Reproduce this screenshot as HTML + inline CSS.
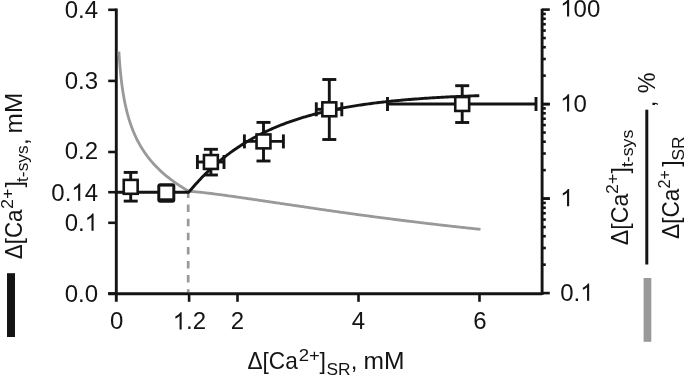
<!DOCTYPE html>
<html><head><meta charset="utf-8"><style>
html,body{margin:0;padding:0;background:#fff;}
svg{display:block;will-change:transform;}
text{font-family:"Liberation Sans", sans-serif;fill:#141414;}
</style></head><body>
<svg width="685" height="376" viewBox="0 0 685 376">
<g>
<rect x="7" y="273.2" width="8" height="63.8" fill="#141414"/><rect x="643.6" y="278" width="7.7" height="63.8" fill="#999999"/><line x1="646.8" y1="109.7" x2="646.8" y2="264.5" stroke="#141414" stroke-width="3"/>
<line x1="116.3" y1="8.6" x2="116.3" y2="301.8" stroke="#141414" stroke-width="2.9"/>
<line x1="108.2" y1="293.7" x2="542.1" y2="293.7" stroke="#141414" stroke-width="2.9"/>
<line x1="542.1" y1="8.8" x2="542.1" y2="295.0" stroke="#141414" stroke-width="2.9"/>
<line x1="108.2" y1="9.8" x2="116.3" y2="9.8" stroke="#141414" stroke-width="2.6"/>
<line x1="108.2" y1="80.9" x2="116.3" y2="80.9" stroke="#141414" stroke-width="2.6"/>
<line x1="108.2" y1="152.0" x2="116.3" y2="152.0" stroke="#141414" stroke-width="2.6"/>
<line x1="108.2" y1="192.2" x2="116.3" y2="192.2" stroke="#141414" stroke-width="2.6"/>
<line x1="108.2" y1="222.8" x2="116.3" y2="222.8" stroke="#141414" stroke-width="2.6"/>
<line x1="108.2" y1="293.5" x2="116.3" y2="293.5" stroke="#141414" stroke-width="2.6"/>
<line x1="189.10" y1="293.7" x2="189.10" y2="301.8" stroke="#141414" stroke-width="2.6"/>
<line x1="237.50" y1="293.7" x2="237.50" y2="301.8" stroke="#141414" stroke-width="2.6"/>
<line x1="358.50" y1="293.7" x2="358.50" y2="301.8" stroke="#141414" stroke-width="2.6"/>
<line x1="479.50" y1="293.7" x2="479.50" y2="301.8" stroke="#141414" stroke-width="2.6"/>
<line x1="542.1" y1="293.10" x2="549.8" y2="293.10" stroke="#141414" stroke-width="2.6"/>
<line x1="542.1" y1="264.65" x2="545.8" y2="264.65" stroke="#141414" stroke-width="2.6"/>
<line x1="542.1" y1="248.01" x2="545.8" y2="248.01" stroke="#141414" stroke-width="2.6"/>
<line x1="542.1" y1="236.21" x2="545.8" y2="236.21" stroke="#141414" stroke-width="2.6"/>
<line x1="542.1" y1="227.05" x2="545.8" y2="227.05" stroke="#141414" stroke-width="2.6"/>
<line x1="542.1" y1="219.56" x2="545.8" y2="219.56" stroke="#141414" stroke-width="2.6"/>
<line x1="542.1" y1="213.24" x2="545.8" y2="213.24" stroke="#141414" stroke-width="2.6"/>
<line x1="542.1" y1="207.76" x2="545.8" y2="207.76" stroke="#141414" stroke-width="2.6"/>
<line x1="542.1" y1="202.92" x2="545.8" y2="202.92" stroke="#141414" stroke-width="2.6"/>
<line x1="542.1" y1="198.60" x2="549.8" y2="198.60" stroke="#141414" stroke-width="2.6"/>
<line x1="542.1" y1="198.60" x2="549.8" y2="198.60" stroke="#141414" stroke-width="2.6"/>
<line x1="542.1" y1="170.15" x2="545.8" y2="170.15" stroke="#141414" stroke-width="2.6"/>
<line x1="542.1" y1="153.51" x2="545.8" y2="153.51" stroke="#141414" stroke-width="2.6"/>
<line x1="542.1" y1="141.71" x2="545.8" y2="141.71" stroke="#141414" stroke-width="2.6"/>
<line x1="542.1" y1="132.55" x2="545.8" y2="132.55" stroke="#141414" stroke-width="2.6"/>
<line x1="542.1" y1="125.06" x2="545.8" y2="125.06" stroke="#141414" stroke-width="2.6"/>
<line x1="542.1" y1="118.74" x2="545.8" y2="118.74" stroke="#141414" stroke-width="2.6"/>
<line x1="542.1" y1="113.26" x2="545.8" y2="113.26" stroke="#141414" stroke-width="2.6"/>
<line x1="542.1" y1="108.42" x2="545.8" y2="108.42" stroke="#141414" stroke-width="2.6"/>
<line x1="542.1" y1="104.10" x2="549.8" y2="104.10" stroke="#141414" stroke-width="2.6"/>
<line x1="542.1" y1="104.10" x2="549.8" y2="104.10" stroke="#141414" stroke-width="2.6"/>
<line x1="542.1" y1="75.65" x2="545.8" y2="75.65" stroke="#141414" stroke-width="2.6"/>
<line x1="542.1" y1="59.01" x2="545.8" y2="59.01" stroke="#141414" stroke-width="2.6"/>
<line x1="542.1" y1="47.21" x2="545.8" y2="47.21" stroke="#141414" stroke-width="2.6"/>
<line x1="542.1" y1="38.05" x2="545.8" y2="38.05" stroke="#141414" stroke-width="2.6"/>
<line x1="542.1" y1="30.56" x2="545.8" y2="30.56" stroke="#141414" stroke-width="2.6"/>
<line x1="542.1" y1="24.24" x2="545.8" y2="24.24" stroke="#141414" stroke-width="2.6"/>
<line x1="542.1" y1="18.76" x2="545.8" y2="18.76" stroke="#141414" stroke-width="2.6"/>
<line x1="542.1" y1="13.92" x2="545.8" y2="13.92" stroke="#141414" stroke-width="2.6"/>
<line x1="542.1" y1="9.60" x2="549.8" y2="9.60" stroke="#141414" stroke-width="2.6"/>
<path d="M118.90,51.47 L119.15,55.54 L119.40,59.24 L119.65,62.63 L119.90,65.76 L120.15,68.68 L120.40,71.40 L120.65,73.95 L120.90,76.35 L121.15,78.61 L121.40,80.76 L121.65,82.81 L121.90,84.75 L122.15,86.61 L122.40,88.39 L122.65,90.09 L122.90,91.72 L123.15,93.30 L123.40,94.81 L123.65,96.27 L123.90,97.68 L124.15,99.05 L124.40,100.37 L124.65,101.64 L124.90,102.88 L125.15,104.09 L125.40,105.26 L125.65,106.39 L125.90,107.50 L126.15,108.58 L126.40,109.63 L126.65,110.65 L126.90,111.65 L127.15,112.62 L127.40,113.58 L127.65,114.51 L127.90,115.42 L128.15,116.31 L128.40,117.18 L128.65,118.03 L128.90,118.87 L129.15,119.69 L129.40,120.49 L129.65,121.28 L129.90,122.05 L130.15,122.81 L130.40,123.55 L130.65,124.29 L130.90,125.00 L131.15,125.71 L131.40,126.41 L131.65,127.09 L131.90,127.76 L132.15,128.42 L132.40,129.07 L132.65,129.71 L132.90,130.34 L133.15,130.96 L133.40,131.57 L133.65,132.18 L133.90,132.77 L134.15,133.36 L134.40,133.93 L134.65,134.50 L134.90,135.06 L135.15,135.62 L135.40,136.17 L135.65,136.70 L135.90,137.24 L136.15,137.76 L136.40,138.28 L136.65,138.79 L136.90,139.30 L137.15,139.80 L137.40,140.29 L137.65,140.78 L137.90,141.26 L138.15,141.74 L138.40,142.21 L138.65,142.68 L138.90,143.14 L139.15,143.59 L139.40,144.04 L139.65,144.49 L139.90,144.93 L140.15,145.37 L141.15,147.07 L142.15,148.70 L143.15,150.27 L144.15,151.78 L145.15,153.24 L146.15,154.65 L147.15,156.01 L148.15,157.32 L149.15,158.60 L150.15,159.84 L151.15,161.04 L152.15,162.21 L153.15,163.34 L154.15,164.45 L155.15,165.53 L156.15,166.57 L157.15,167.60 L158.15,168.59 L159.15,169.57 L160.15,170.52 L161.15,171.45 L162.15,172.36 L163.15,173.25 L164.15,174.12 L165.15,174.97 L166.15,175.80 L167.15,176.62 L168.15,177.42 L169.15,178.21 L170.15,178.98 L171.15,179.74 L172.15,180.49 L173.15,181.22 L174.15,181.94 L175.15,182.64 L176.15,183.33 L177.15,184.02 L178.15,184.69 L179.15,185.35 L180.15,186.00 L181.15,186.64 L182.15,187.27 L183.15,187.89 L184.15,188.50 L185.15,189.10 L186.15,189.70 L187.15,190.28 L188.15,190.86 L189.15,191.25 L190.15,191.33 L191.15,191.40 L192.15,191.49 L193.15,191.57 L194.15,191.66 L195.15,191.75 L196.15,191.84 L197.15,191.94 L198.15,192.04 L199.15,192.14 L200.15,192.24 L201.15,192.35 L202.15,192.46 L203.15,192.57 L204.15,192.68 L205.15,192.79 L206.15,192.91 L207.15,193.02 L208.15,193.14 L209.15,193.26 L210.15,193.39 L211.15,193.51 L212.15,193.63 L213.15,193.76 L214.15,193.89 L215.15,194.02 L216.15,194.15 L217.15,194.28 L218.15,194.41 L219.15,194.54 L220.15,194.67 L221.15,194.81 L222.15,194.94 L223.15,195.08 L224.15,195.22 L225.15,195.35 L226.15,195.49 L227.15,195.63 L228.15,195.77 L229.15,195.91 L230.15,196.05 L231.15,196.19 L232.15,196.33 L233.15,196.48 L234.15,196.62 L235.15,196.76 L236.15,196.91 L237.15,197.05 L238.15,197.19 L239.15,197.34 L240.15,197.48 L241.15,197.63 L242.15,197.77 L243.15,197.92 L244.15,198.07 L245.15,198.21 L246.15,198.36 L247.15,198.50 L248.15,198.65 L249.15,198.80 L250.15,198.95 L251.15,199.09 L252.15,199.24 L253.15,199.39 L254.15,199.54 L255.15,199.68 L256.15,199.83 L257.15,199.98 L258.15,200.13 L259.15,200.27 L260.15,200.42 L261.15,200.57 L262.15,200.72 L263.15,200.87 L264.15,201.01 L265.15,201.16 L266.15,201.31 L267.15,201.46 L268.15,201.61 L269.15,201.75 L270.15,201.90 L271.15,202.05 L272.15,202.20 L273.15,202.35 L274.15,202.49 L275.15,202.64 L276.15,202.79 L277.15,202.94 L278.15,203.08 L279.15,203.23 L280.15,203.38 L281.15,203.52 L282.15,203.67 L283.15,203.82 L284.15,203.96 L285.15,204.11 L286.15,204.26 L287.15,204.40 L288.15,204.55 L289.15,204.69 L290.15,204.84 L291.15,204.98 L292.15,205.13 L293.15,205.27 L294.15,205.42 L295.15,205.56 L296.15,205.71 L297.15,205.85 L298.15,206.00 L299.15,206.14 L300.15,206.29 L301.15,206.44 L302.15,206.59 L303.15,206.74 L304.15,206.89 L305.15,207.04 L306.15,207.19 L307.15,207.34 L308.15,207.49 L309.15,207.64 L310.15,207.79 L311.15,207.94 L312.15,208.08 L313.15,208.23 L314.15,208.38 L315.15,208.53 L316.15,208.67 L317.15,208.82 L318.15,208.97 L319.15,209.11 L320.15,209.26 L321.15,209.41 L322.15,209.55 L323.15,209.70 L324.15,209.84 L325.15,209.99 L326.15,210.13 L327.15,210.28 L328.15,210.42 L329.15,210.57 L330.15,210.71 L331.15,210.85 L332.15,211.00 L333.15,211.14 L334.15,211.28 L335.15,211.42 L336.15,211.57 L337.15,211.71 L338.15,211.85 L339.15,211.99 L340.15,212.13 L341.15,212.27 L342.15,212.41 L343.15,212.55 L344.15,212.69 L345.15,212.83 L346.15,212.97 L347.15,213.11 L348.15,213.25 L349.15,213.39 L350.15,213.53 L351.15,213.67 L352.15,213.81 L353.15,213.94 L354.15,214.08 L355.15,214.22 L356.15,214.36 L357.15,214.49 L358.15,214.63 L359.15,214.77 L360.15,214.90 L361.15,215.04 L362.15,215.17 L363.15,215.31 L364.15,215.44 L365.15,215.58 L366.15,215.71 L367.15,215.85 L368.15,215.98 L369.15,216.11 L370.15,216.25 L371.15,216.38 L372.15,216.51 L373.15,216.64 L374.15,216.78 L375.15,216.91 L376.15,217.04 L377.15,217.17 L378.15,217.30 L379.15,217.43 L380.15,217.56 L381.15,217.69 L382.15,217.82 L383.15,217.95 L384.15,218.08 L385.15,218.21 L386.15,218.34 L387.15,218.47 L388.15,218.60 L389.15,218.73 L390.15,218.86 L391.15,218.98 L392.15,219.11 L393.15,219.24 L394.15,219.36 L395.15,219.49 L396.15,219.62 L397.15,219.74 L398.15,219.87 L399.15,219.99 L400.15,220.12 L401.15,220.24 L402.15,220.37 L403.15,220.49 L404.15,220.62 L405.15,220.74 L406.15,220.87 L407.15,220.99 L408.15,221.11 L409.15,221.24 L410.15,221.36 L411.15,221.48 L412.15,221.60 L413.15,221.72 L414.15,221.85 L415.15,221.97 L416.15,222.09 L417.15,222.21 L418.15,222.33 L419.15,222.45 L420.15,222.57 L421.15,222.69 L422.15,222.81 L423.15,222.93 L424.15,223.05 L425.15,223.17 L426.15,223.29 L427.15,223.40 L428.15,223.52 L429.15,223.64 L430.15,223.76 L431.15,223.87 L432.15,223.99 L433.15,224.11 L434.15,224.23 L435.15,224.34 L436.15,224.46 L437.15,224.57 L438.15,224.69 L439.15,224.80 L440.15,224.92 L441.15,225.03 L442.15,225.15 L443.15,225.26 L444.15,225.38 L445.15,225.49 L446.15,225.60 L447.15,225.72 L448.15,225.83 L449.15,225.94 L450.15,226.06 L451.15,226.17 L452.15,226.28 L453.15,226.39 L454.15,226.51 L455.15,226.62 L456.15,226.73 L457.15,226.84 L458.15,226.95 L459.15,227.06 L460.15,227.17 L461.15,227.28 L462.15,227.39 L463.15,227.50 L464.15,227.61 L465.15,227.72 L466.15,227.83 L467.15,227.94 L468.15,228.05 L469.15,228.15 L470.15,228.26 L471.15,228.37 L472.15,228.48 L473.15,228.58 L474.15,228.69 L475.15,228.80 L476.15,228.90 L477.15,229.01 L478.15,229.12 L479.15,229.22 L480.15,229.33 L480.50,229.37" fill="none" stroke="#999999" stroke-width="2.8" stroke-linejoin="round"/>
<line x1="188.2" y1="190.5" x2="188.2" y2="292" stroke="#999999" stroke-width="2.7" stroke-dasharray="7.5 6.6"/>
<path d="M116.50,192.20 L188.80,192.20 L189.80,190.99 L191.30,189.21 L192.80,187.47 L194.30,185.75 L195.80,184.06 L197.30,182.41 L198.80,180.78 L200.30,179.19 L201.80,177.62 L203.30,176.08 L204.80,174.57 L206.30,173.09 L207.80,171.63 L209.30,170.20 L210.80,168.80 L212.30,167.42 L213.80,166.07 L215.30,164.74 L216.80,163.43 L218.30,162.15 L219.80,160.89 L221.30,159.66 L222.80,158.44 L224.30,157.25 L225.80,156.08 L227.30,154.94 L228.80,153.81 L230.30,152.70 L231.80,151.62 L233.30,150.55 L234.80,149.50 L236.30,148.47 L237.80,147.46 L239.30,146.47 L240.80,145.50 L242.30,144.54 L243.80,143.60 L245.30,142.68 L246.80,141.78 L248.30,140.89 L249.80,140.01 L251.30,139.16 L252.80,138.32 L254.30,137.49 L255.80,136.68 L257.30,135.88 L258.80,135.10 L260.30,134.33 L261.80,133.58 L263.30,132.84 L264.80,132.11 L266.30,131.40 L267.80,130.70 L269.30,130.01 L270.80,129.34 L272.30,128.67 L273.80,128.02 L275.30,127.38 L276.80,126.75 L278.30,126.14 L279.80,125.53 L281.30,124.94 L282.80,124.35 L284.30,123.78 L285.80,123.22 L287.30,122.67 L288.80,122.12 L290.30,121.59 L291.80,121.07 L293.30,120.56 L294.80,120.05 L296.30,119.56 L297.80,119.07 L299.30,118.59 L300.80,118.13 L302.30,117.67 L303.80,117.21 L305.30,116.77 L306.80,116.34 L308.30,115.91 L309.80,115.49 L311.30,115.08 L312.80,114.67 L314.30,114.27 L315.80,113.88 L317.30,113.50 L318.80,113.12 L320.30,112.76 L321.80,112.39 L323.30,112.04 L324.80,111.69 L326.30,111.34 L327.80,111.01 L329.30,110.68 L330.80,110.35 L332.30,110.03 L333.80,109.72 L335.30,109.41 L336.80,109.11 L338.30,108.81 L339.80,108.52 L341.30,108.24 L342.80,107.95 L344.30,107.68 L345.80,107.41 L347.30,107.14 L348.80,106.88 L350.30,106.63 L351.80,106.37 L353.30,106.13 L354.80,105.88 L356.30,105.65 L357.80,105.41 L359.30,105.18 L360.80,104.96 L362.30,104.74 L363.80,104.52 L365.30,104.31 L366.80,104.10 L368.30,103.89 L369.80,103.69 L371.30,103.49 L372.80,103.30 L374.30,103.10 L375.80,102.92 L377.30,102.73 L378.80,102.55 L380.30,102.37 L381.80,102.20 L383.30,102.03 L384.80,101.86 L386.30,101.70 L387.80,101.53 L389.30,101.37 L390.80,101.22 L392.30,101.06 L393.80,100.91 L395.30,100.77 L396.80,100.62 L398.30,100.48 L399.80,100.34 L401.30,100.20 L402.80,100.06 L404.30,99.93 L405.80,99.80 L407.30,99.67 L408.80,99.55 L410.30,99.43 L411.80,99.30 L413.30,99.19 L414.80,99.07 L416.30,98.95 L417.80,98.84 L419.30,98.73 L420.80,98.62 L422.30,98.52 L423.80,98.41 L425.30,98.31 L426.80,98.21 L428.30,98.11 L429.80,98.01 L431.30,97.92 L432.80,97.82 L434.30,97.73 L435.80,97.64 L437.30,97.55 L438.80,97.47 L440.30,97.38 L441.80,97.30 L443.30,97.21 L444.80,97.13 L446.30,97.05 L447.80,96.98 L449.30,96.90 L450.80,96.82 L452.30,96.75 L453.80,96.68 L455.30,96.61 L456.80,96.54 L458.30,96.47 L459.80,96.40 L461.30,96.33 L462.80,96.27 L464.30,96.21 L465.80,96.14 L467.30,96.08 L468.80,96.02 L470.30,95.96 L471.80,95.90 L473.30,95.85 L474.80,95.79 L476.30,95.73 L477.80,95.68 L479.30,95.63" fill="none" stroke="#141414" stroke-width="2.9" stroke-linejoin="round"/>
<line x1="130.7" y1="172.4" x2="130.7" y2="201.1" stroke="#141414" stroke-width="2.9"/>
<line x1="123.70" y1="172.4" x2="137.70" y2="172.4" stroke="#141414" stroke-width="2.9"/>
<line x1="123.70" y1="201.1" x2="137.70" y2="201.1" stroke="#141414" stroke-width="2.9"/>
<rect x="123.75" y="179.90" width="13.9" height="13.9" fill="#fff" stroke="#141414" stroke-width="2.6"/>
<rect x="157.3" y="183.2" width="18" height="19.5" rx="3" fill="#141414"/>
<rect x="160.3" y="186.6" width="12" height="11.7" fill="#fff"/>
<line x1="210.9" y1="149.3" x2="210.9" y2="175.0" stroke="#141414" stroke-width="2.9"/>
<line x1="203.90" y1="149.3" x2="217.90" y2="149.3" stroke="#141414" stroke-width="2.9"/>
<line x1="203.90" y1="175.0" x2="217.90" y2="175.0" stroke="#141414" stroke-width="2.9"/>
<line x1="197.4" y1="162.0" x2="224.0" y2="162.0" stroke="#141414" stroke-width="2.9"/>
<line x1="197.4" y1="155.00" x2="197.4" y2="169.00" stroke="#141414" stroke-width="2.9"/>
<line x1="224.0" y1="155.00" x2="224.0" y2="169.00" stroke="#141414" stroke-width="2.9"/>
<rect x="203.95" y="155.05" width="13.9" height="13.9" fill="#fff" stroke="#141414" stroke-width="2.6"/>
<line x1="263.5" y1="122.4" x2="263.5" y2="161.0" stroke="#141414" stroke-width="2.9"/>
<line x1="256.50" y1="122.4" x2="270.50" y2="122.4" stroke="#141414" stroke-width="2.9"/>
<line x1="256.50" y1="161.0" x2="270.50" y2="161.0" stroke="#141414" stroke-width="2.9"/>
<line x1="244.4" y1="141.4" x2="283.4" y2="141.4" stroke="#141414" stroke-width="2.9"/>
<line x1="244.4" y1="134.40" x2="244.4" y2="148.40" stroke="#141414" stroke-width="2.9"/>
<line x1="283.4" y1="134.40" x2="283.4" y2="148.40" stroke="#141414" stroke-width="2.9"/>
<rect x="256.55" y="134.45" width="13.9" height="13.9" fill="#fff" stroke="#141414" stroke-width="2.6"/>
<line x1="329.3" y1="79.5" x2="329.3" y2="139.5" stroke="#141414" stroke-width="2.9"/>
<line x1="322.30" y1="79.5" x2="336.30" y2="79.5" stroke="#141414" stroke-width="2.9"/>
<line x1="322.30" y1="139.5" x2="336.30" y2="139.5" stroke="#141414" stroke-width="2.9"/>
<line x1="316.3" y1="109.3" x2="341.8" y2="109.3" stroke="#141414" stroke-width="2.9"/>
<line x1="316.3" y1="102.30" x2="316.3" y2="116.30" stroke="#141414" stroke-width="2.9"/>
<line x1="341.8" y1="102.30" x2="341.8" y2="116.30" stroke="#141414" stroke-width="2.9"/>
<rect x="322.35" y="102.35" width="13.9" height="13.9" fill="#fff" stroke="#141414" stroke-width="2.6"/>
<line x1="462.2" y1="85.7" x2="462.2" y2="122.5" stroke="#141414" stroke-width="2.9"/>
<line x1="455.20" y1="85.7" x2="469.20" y2="85.7" stroke="#141414" stroke-width="2.9"/>
<line x1="455.20" y1="122.5" x2="469.20" y2="122.5" stroke="#141414" stroke-width="2.9"/>
<line x1="387.5" y1="104.0" x2="536.0" y2="104.0" stroke="#141414" stroke-width="2.9"/>
<line x1="387.5" y1="97.00" x2="387.5" y2="111.00" stroke="#141414" stroke-width="2.9"/>
<line x1="536.0" y1="97.00" x2="536.0" y2="111.00" stroke="#141414" stroke-width="2.9"/>
<rect x="455.25" y="97.05" width="13.9" height="13.9" fill="#fff" stroke="#141414" stroke-width="2.6"/>
<text x="64.64" y="17.9" font-size="24">0.4</text>
<text x="64.64" y="88.5" font-size="24">0.3</text>
<text x="64.64" y="158.7" font-size="24">0.2</text>
<text x="51.29" y="200.8" font-size="24">0.</text>
<path transform="translate(71.30,200.8) scale(0.01172,-0.01172)" d="M763 0H583V1147Q518 1085 412 1023Q306 961 223 930V1104Q374 1175 487 1276Q600 1377 647 1472H763Z" fill="#141414"/>
<text x="84.65" y="200.8" font-size="24">4</text>
<text x="64.64" y="230.8" font-size="24">0.</text>
<path transform="translate(84.65,230.8) scale(0.01172,-0.01172)" d="M763 0H583V1147Q518 1085 412 1023Q306 961 223 930V1104Q374 1175 487 1276Q600 1377 647 1472H763Z" fill="#141414"/>
<text x="64.64" y="301.6" font-size="24">0.0</text>
<text x="110.03" y="329.4" font-size="24">0</text>
<path transform="translate(172.72,329.4) scale(0.01172,-0.01172)" d="M763 0H583V1147Q518 1085 412 1023Q306 961 223 930V1104Q374 1175 487 1276Q600 1377 647 1472H763Z" fill="#141414"/>
<text x="186.07" y="329.4" font-size="24">.2</text>
<text x="230.83" y="329.4" font-size="24">2</text>
<text x="351.83" y="329.4" font-size="24">4</text>
<text x="473.13" y="329.4" font-size="24">6</text>
<path transform="translate(560.20,16.5) scale(0.01172,-0.01172)" d="M763 0H583V1147Q518 1085 412 1023Q306 961 223 930V1104Q374 1175 487 1276Q600 1377 647 1472H763Z" fill="#141414"/>
<text x="573.55" y="16.5" font-size="24">00</text>
<path transform="translate(560.20,111.6) scale(0.01172,-0.01172)" d="M763 0H583V1147Q518 1085 412 1023Q306 961 223 930V1104Q374 1175 487 1276Q600 1377 647 1472H763Z" fill="#141414"/>
<text x="573.55" y="111.6" font-size="24">0</text>
<path transform="translate(560.20,206.3) scale(0.01172,-0.01172)" d="M763 0H583V1147Q518 1085 412 1023Q306 961 223 930V1104Q374 1175 487 1276Q600 1377 647 1472H763Z" fill="#141414"/>
<text x="560.20" y="300.7" font-size="24">0.</text>
<path transform="translate(580.22,300.7) scale(0.01172,-0.01172)" d="M763 0H583V1147Q518 1085 412 1023Q306 961 223 930V1104Q374 1175 487 1276Q600 1377 647 1472H763Z" fill="#141414"/>
<text x="247.43" y="369.30" font-size="23.2" textLength="50.37" lengthAdjust="spacingAndGlyphs">&#916;[Ca</text>
<text x="298.77" y="360.50" font-size="17.2" textLength="21.15" lengthAdjust="spacingAndGlyphs">2+</text>
<text x="319.42" y="369.30" font-size="23.2">]</text>
<text x="326.51" y="375.00" font-size="17.2" textLength="24.09" lengthAdjust="spacingAndGlyphs">SR</text>
<text x="350.74" y="369.30" font-size="24">,</text>
<text x="363.47" y="369.30" font-size="24" textLength="40.95" lengthAdjust="spacingAndGlyphs">mM</text>
<text transform="translate(22.20,259.27) rotate(-90)" font-size="23.2" textLength="49.77" lengthAdjust="spacingAndGlyphs">&#916;[Ca</text>
<text transform="translate(13.00,208.90) rotate(-90)" font-size="17.2" textLength="20.49" lengthAdjust="spacingAndGlyphs">2+</text>
<text transform="translate(22.20,187.48) rotate(-90)" font-size="23.2">]</text>
<text transform="translate(27.90,181.96) rotate(-90)" font-size="17.2" textLength="36.59" lengthAdjust="spacingAndGlyphs">t-sys</text>
<text transform="translate(28.40,145.06) rotate(-90)" font-size="24">,</text>
<text transform="translate(22.20,133.42) rotate(-90)" font-size="24" textLength="40.62" lengthAdjust="spacingAndGlyphs">mM</text>
<text transform="translate(627.80,245.29) rotate(-90)" font-size="23.2" textLength="51.59" lengthAdjust="spacingAndGlyphs">&#916;[Ca</text>
<text transform="translate(618.10,193.99) rotate(-90)" font-size="17.2" textLength="20.27" lengthAdjust="spacingAndGlyphs">2+</text>
<text transform="translate(627.80,173.58) rotate(-90)" font-size="23.2">]</text>
<text transform="translate(632.60,167.07) rotate(-90)" font-size="17.2" textLength="37.31" lengthAdjust="spacingAndGlyphs">t-sys</text>
<text transform="translate(678.80,238.97) rotate(-90)" font-size="23.2" textLength="50.37" lengthAdjust="spacingAndGlyphs">&#916;[Ca</text>
<text transform="translate(670.10,188.51) rotate(-90)" font-size="17.2" textLength="18.41" lengthAdjust="spacingAndGlyphs">2+</text>
<text transform="translate(678.80,166.68) rotate(-90)" font-size="23.2">]</text>
<text transform="translate(684.10,160.59) rotate(-90)" font-size="17.2" textLength="24.09" lengthAdjust="spacingAndGlyphs">SR</text>
<text transform="translate(655.00,107.36) rotate(-90)" font-size="24">,</text>
<text transform="translate(655.00,93.13) rotate(-90)" font-size="24" textLength="20.76" lengthAdjust="spacingAndGlyphs">%</text>
</g>
</svg>
</body></html>
